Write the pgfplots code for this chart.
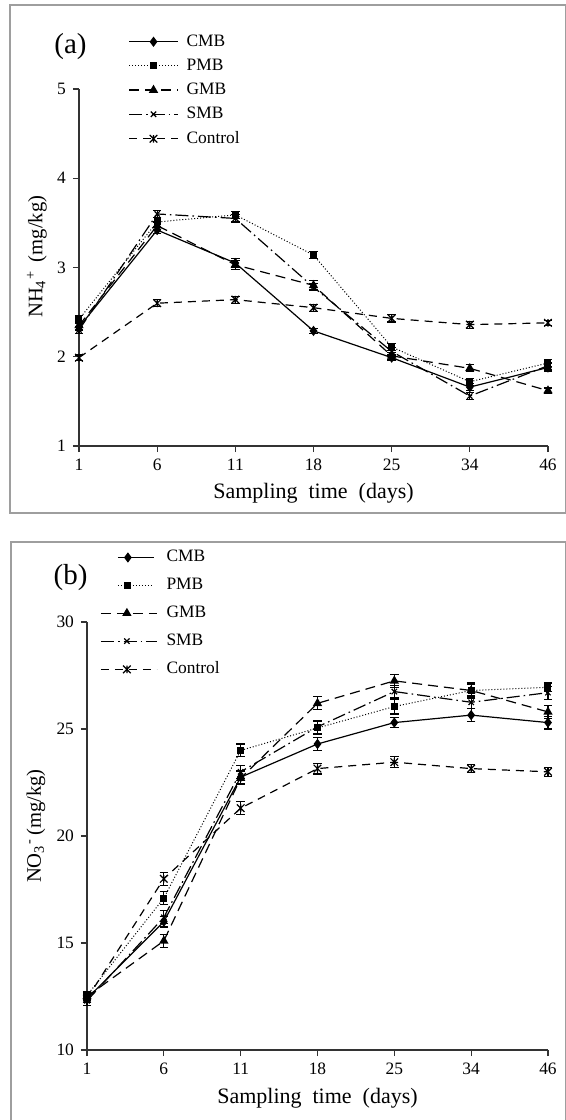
\documentclass[border=0pt]{standalone}
\usepackage{fontspec}
\setmainfont{Liberation Serif}
\usepackage{pgfplots}
\usepackage{pgfplotstable}
\pgfplotsset{compat=1.18}

\pgfdeclareplotmark{xstar}{%
  \pgfpathmoveto{\pgfqpoint{-\pgfplotmarksize}{-\pgfplotmarksize}}%
  \pgfpathlineto{\pgfqpoint{\pgfplotmarksize}{\pgfplotmarksize}}%
  \pgfpathmoveto{\pgfqpoint{-\pgfplotmarksize}{\pgfplotmarksize}}%
  \pgfpathlineto{\pgfqpoint{\pgfplotmarksize}{-\pgfplotmarksize}}%
  \pgfpathmoveto{\pgfqpoint{0pt}{-\pgfplotmarksize}}%
  \pgfpathlineto{\pgfqpoint{0pt}{\pgfplotmarksize}}%
  \pgfusepathqstroke}

% Panel (a): NH4+ (mg/kg)
\pgfplotstableread{
x cmb cmbe pmb pmbe gmb gmbe smb smbe ctl ctle
0 2.33 0.04 2.42 0.04 2.35 0.04 2.30 0.04 1.99 0.03
1 3.42 0.04 3.51 0.05 3.47 0.04 3.60 0.04 2.60 0.04
2 3.05 0.05 3.59 0.04 3.03 0.05 3.55 0.04 2.64 0.04
3 2.29 0.03 3.14 0.04 2.80 0.05 2.78 0.04 2.55 0.04
4 1.99 0.03 2.11 0.04 2.01 0.04 2.06 0.04 2.43 0.04
5 1.66 0.04 1.72 0.04 1.87 0.04 1.56 0.04 2.36 0.04
6 1.88 0.04 1.93 0.04 1.62 0.03 1.90 0.04 2.38 0.03
}\tabA

% Panel (b): NO3- (mg/kg)
\pgfplotstableread{
x cmb cmbe pmb pmbe gmb gmbe smb smbe ctl ctle
0 12.40 0.20 12.55 0.20 12.50 0.20 12.30 0.20 12.40 0.20
1 16.00 0.25 17.10 0.30 15.10 0.30 16.20 0.30 18.00 0.30
2 22.75 0.30 24.00 0.30 22.70 0.30 23.00 0.30 21.30 0.30
3 24.30 0.30 25.05 0.30 26.20 0.30 25.10 0.30 23.15 0.25
4 25.30 0.25 26.05 0.35 27.25 0.30 26.75 0.30 23.45 0.25
5 25.65 0.30 26.80 0.35 26.80 0.30 26.25 0.30 23.15 0.20
6 25.30 0.30 26.95 0.20 25.80 0.30 26.70 0.30 23.00 0.20
}\tabB

\pgfplotsset{
  panel/.style={
    scale only axis,
    axis x line*=bottom, axis y line*=left,
    axis line style={-, draw=black!80, line width=0.6pt},
    every outer x axis line/.append style={-},
    every outer y axis line/.append style={-},
    tick align=outside, major tick length=3pt,
    tick style={draw=black!80, line width=0.6pt},
    xmin=0, xmax=6, xtick={0,...,6},
    xticklabels={1,6,11,18,25,34,46},
    /pgf/number format/assume math mode=true,
    ticklabel style={font=\fontsize{8.7}{10}\selectfont},
    clip=false,
    legend cell align=left,
    legend style={draw=none, fill=none, font=\fontsize{8.7}{10}\selectfont,
      inner sep=0pt, row sep=0.85pt},
    /tikz/every odd column/.append style={column sep=2pt},
  },
  eb/.style={error bars/.cd, y dir=both, y explicit,
    error bar style={solid, line width=0.55pt, black},
    error mark options={rotate=90, mark size=2.1pt, solid, line width=0.55pt, black}},
  sCMB/.style={black, solid, line width=0.6pt, mark=diamond*, mark size=2.1pt, mark options={solid}},
  sPMB/.style={black, line width=0.5pt, dash pattern=on 0.5pt off 1pt, mark=square*, mark size=1.5pt, mark options={solid}},
  sGMB/.style={black, line width=0.6pt, dash pattern=on 5pt off 3pt, mark=triangle*, mark size=2.1pt, mark options={solid}},
  sSMB/.style={black, line width=0.6pt, dash pattern=on 6.5pt off 2pt on 0.8pt off 2pt, mark=x, mark size=1.9pt, mark options={solid}},
  sCTL/.style={black, line width=0.6pt, dash pattern=on 4pt off 3pt, mark=xstar, mark size=1.9pt, mark options={solid}},
  legA/.style={legend image code/.code={\path (0pt,-2pt) (24.5pt,2pt);
    \draw[mark repeat=2,mark phase=2,##1] plot coordinates {(0pt,0pt) (12.25pt,0pt) (24.5pt,0pt)};}},
  legB/.style={legend image code/.code={\path (0pt,-2pt) (28.5pt,2pt);
    \draw[mark repeat=2,mark phase=2,##1] plot coordinates {(0pt,0pt) (13pt,0pt) (28pt,0pt)};}},
  legBs/.style={legend image code/.code={\path (0pt,-2pt) (28.5pt,2pt);
    \draw[mark repeat=2,mark phase=2,##1] plot coordinates {(8.5pt,0pt) (13.5pt,0pt) (26.5pt,0pt)};}},
}

\begin{document}
\begin{tikzpicture}
\useasboundingbox (0pt,0pt) rectangle (283pt,-560pt);
\draw[black!38, line width=1pt] (5pt,-2.5pt) rectangle (283pt,-256.5pt);
\draw[black!38, line width=1pt] (5.5pt,-271pt) rectangle (283pt,-561pt);

\node[font=\fontsize{14.5}{16}\selectfont] at (35.25pt,-23.5pt) {(a)};
\node[font=\fontsize{14.5}{16}\selectfont] at (35.25pt,-289pt) {(b)};

% ---------------- (a)
\begin{axis}[panel, at={(39.5pt,-223pt)}, anchor=origin,
  width=234.5pt, height=178.5pt,
  ymin=1, ymax=5, ytick={1,2,3,4,5},
  xlabel={Sampling\hspace{0.5em}time\hspace{0.5em}(days)},
  xlabel style={font=\fontsize{11}{12}\selectfont, at={(axis description cs:0.5,-0.131)}, anchor=center},
  ylabel={NH\textsubscript{4}\textsuperscript{+}\, (mg/kg)},
  ylabel style={font=\fontsize{10.3}{12}\selectfont, at={(axis description cs:-0.09,0.53)}, anchor=center},
  legend style={at={(axis description cs:0.1045,1.165)}, anchor=north west},
]
\addplot[legA, sCMB, eb] table[x=x, y=cmb, y error=cmbe] {\tabA};
\addlegendentry{CMB}
\addplot[legA, sPMB, eb] table[x=x, y=pmb, y error=pmbe] {\tabA};
\addlegendentry{PMB}
\addplot[legA, sGMB, eb] table[x=x, y=gmb, y error=gmbe] {\tabA};
\addlegendentry{GMB}
\addplot[legA, sSMB, eb] table[x=x, y=smb, y error=smbe] {\tabA};
\addlegendentry{SMB}
\addplot[legA, sCTL, eb] table[x=x, y=ctl, y error=ctle] {\tabA};
\addlegendentry{Control}
\end{axis}

% ---------------- (b)
\begin{axis}[panel, at={(43.5pt,-525pt)}, anchor=origin,
  width=230.5pt, height=214pt,
  ymin=10, ymax=30, ytick={10,15,20,25,30},
  xlabel={Sampling\hspace{0.5em}time\hspace{0.5em}(days)},
  xlabel style={font=\fontsize{11}{12}\selectfont, at={(axis description cs:0.5,-0.113)}, anchor=center},
  ylabel={NO\textsubscript{3}\textsuperscript{-}\,(mg/kg)},
  ylabel style={font=\fontsize{10.3}{12}\selectfont, at={(axis description cs:-0.111,0.523)}, anchor=center},
  legend style={at={(axis description cs:0.028,1.178)}, anchor=north west, row sep=2.7pt},
]
\addplot[legBs, sCMB, eb] table[x=x, y=cmb, y error=cmbe] {\tabB};
\addlegendentry{CMB}
\addplot[legBs, sPMB, eb] table[x=x, y=pmb, y error=pmbe] {\tabB};
\addlegendentry{PMB}
\addplot[legB, sGMB, eb] table[x=x, y=gmb, y error=gmbe] {\tabB};
\addlegendentry{GMB}
\addplot[legB, sSMB, eb] table[x=x, y=smb, y error=smbe] {\tabB};
\addlegendentry{SMB}
\addplot[legB, sCTL, eb] table[x=x, y=ctl, y error=ctle] {\tabB};
\addlegendentry{Control}
\end{axis}
\end{tikzpicture}
\end{document}
